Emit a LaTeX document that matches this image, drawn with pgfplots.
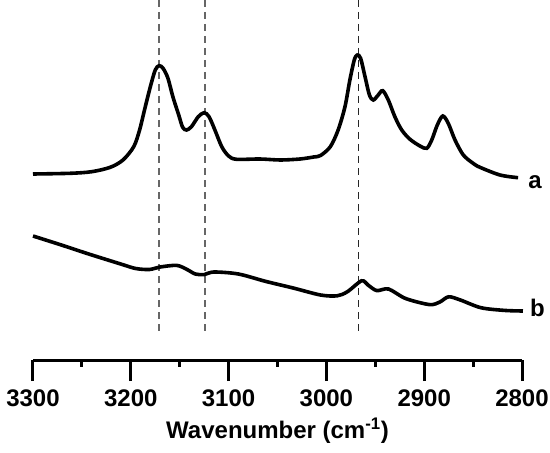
\documentclass[border=0pt]{standalone}
\usepackage{fontspec}
\setmainfont{Liberation Sans}
\usepackage{pgfplots}
\pgfplotsset{compat=1.18}
\begin{document}
\begin{tikzpicture}
\begin{axis}[
  scale only axis,
  width=489pt, height=360pt,
  x dir=reverse,
  xmin=2800, xmax=3300,
  ymin=1, ymax=361,
  axis y line=none,
  axis x line*=bottom,
  x axis line style={-, line width=3pt},
  xtick={2800,2900,3000,3100,3200,3300},
  minor x tick num=1,
  tick align=outside,
  major tick length=21pt,
  minor tick length=6.5pt,
  tick style={black, line width=3pt},
  /pgf/number format/assume math mode=true,
  /pgf/number format/1000 sep={},
  xticklabel style={font=\fontsize{24}{24}\selectfont\bfseries, anchor=north, yshift=-5pt},
  xlabel={Wavenumber (cm\textsuperscript{-1})},
  xlabel style={font=\fontsize{24}{24}\selectfont\bfseries, at={(axis description cs:0.5,-0.2194)}, anchor=base},
  clip=false,
]
% dashed reference lines
\addplot[gray!80!black, line width=1.6pt, dash pattern=on 7pt off 5pt] coordinates {(3171,361) (3171,26)};
\addplot[gray!80!black, line width=1.6pt, dash pattern=on 7pt off 5pt] coordinates {(3124,361) (3124,26)};
\addplot[black!85, line width=1.6pt, dash pattern=on 7pt off 5pt] coordinates {(2967,361) (2967,26)};
% spectrum a
\addplot[black, line width=3.6pt, smooth, tension=0.5] coordinates {
(3300,187) (3262,187.7) (3240,189.3) (3221,193.7) (3208,201) (3197,214.3) (3191,231) (3186,251)
(3180,274.3) (3175,291) (3171,295.3) (3167,292.7) (3162,282.7) (3157,264.3) (3151,246) (3147,233.7)
(3143,231) (3138,234.3) (3131,244.3) (3125,248.3) (3120,244.3) (3114,231) (3107,214.3) (3100,205)
(3092,201.7) (3068,202) (3047,201) (3027,202) (3013,204) (3006,205.5) (2996,214.3) (2988,231)
(2981,254.3) (2976,281) (2971.5,301) (2968.4,306) (2965,302.7) (2960.5,284.3) (2956,266) (2952,261)
(2947,266) (2942.4,270.3) (2936.7,261) (2930,244.3) (2923,231) (2914.5,221.7) (2904.3,215)
(2897.4,212.7) (2892.3,221) (2886.6,236) (2881,245) (2875.4,237.7) (2868.5,221) (2860,206)
(2850,197.7) (2843,193.7) (2822.5,186) (2804,183.3)
};
% spectrum b
\addplot[black, line width=3.6pt, smooth, tension=0.5] coordinates {
(3300,125) (3271,116) (3243,107) (3209,96.6) (3195,92.5) (3181,91.5) (3170,94) (3153,95.6)
(3142.5,91.5) (3134,87) (3125,86.4) (3115,89) (3090,87) (3062,79.6) (3034,73) (3006,66)
(2989,65.2) (2978.5,69.3) (2964,80.2) (2957.5,76) (2948.5,70.4) (2936.5,72) (2919,62.5)
(2894.5,56.4) (2884,59) (2875,64.2) (2863,61) (2842,53.3) (2818,50.6) (2799,50)
};
\node[anchor=base west, inner sep=0pt, font=\fontsize{24}{24}\selectfont\bfseries] at (axis cs:2793.6,172.7) {a};
\node[anchor=base west, inner sep=0pt, font=\fontsize{24}{24}\selectfont\bfseries] at (axis cs:2791.8,44.3) {b};
\end{axis}
\pgfresetboundingbox
\path[use as bounding box] ([shift={(-33pt,-92pt)}]current axis.south west) rectangle ([shift={(28pt,0pt)}]current axis.north east);
\end{tikzpicture}
\end{document}
